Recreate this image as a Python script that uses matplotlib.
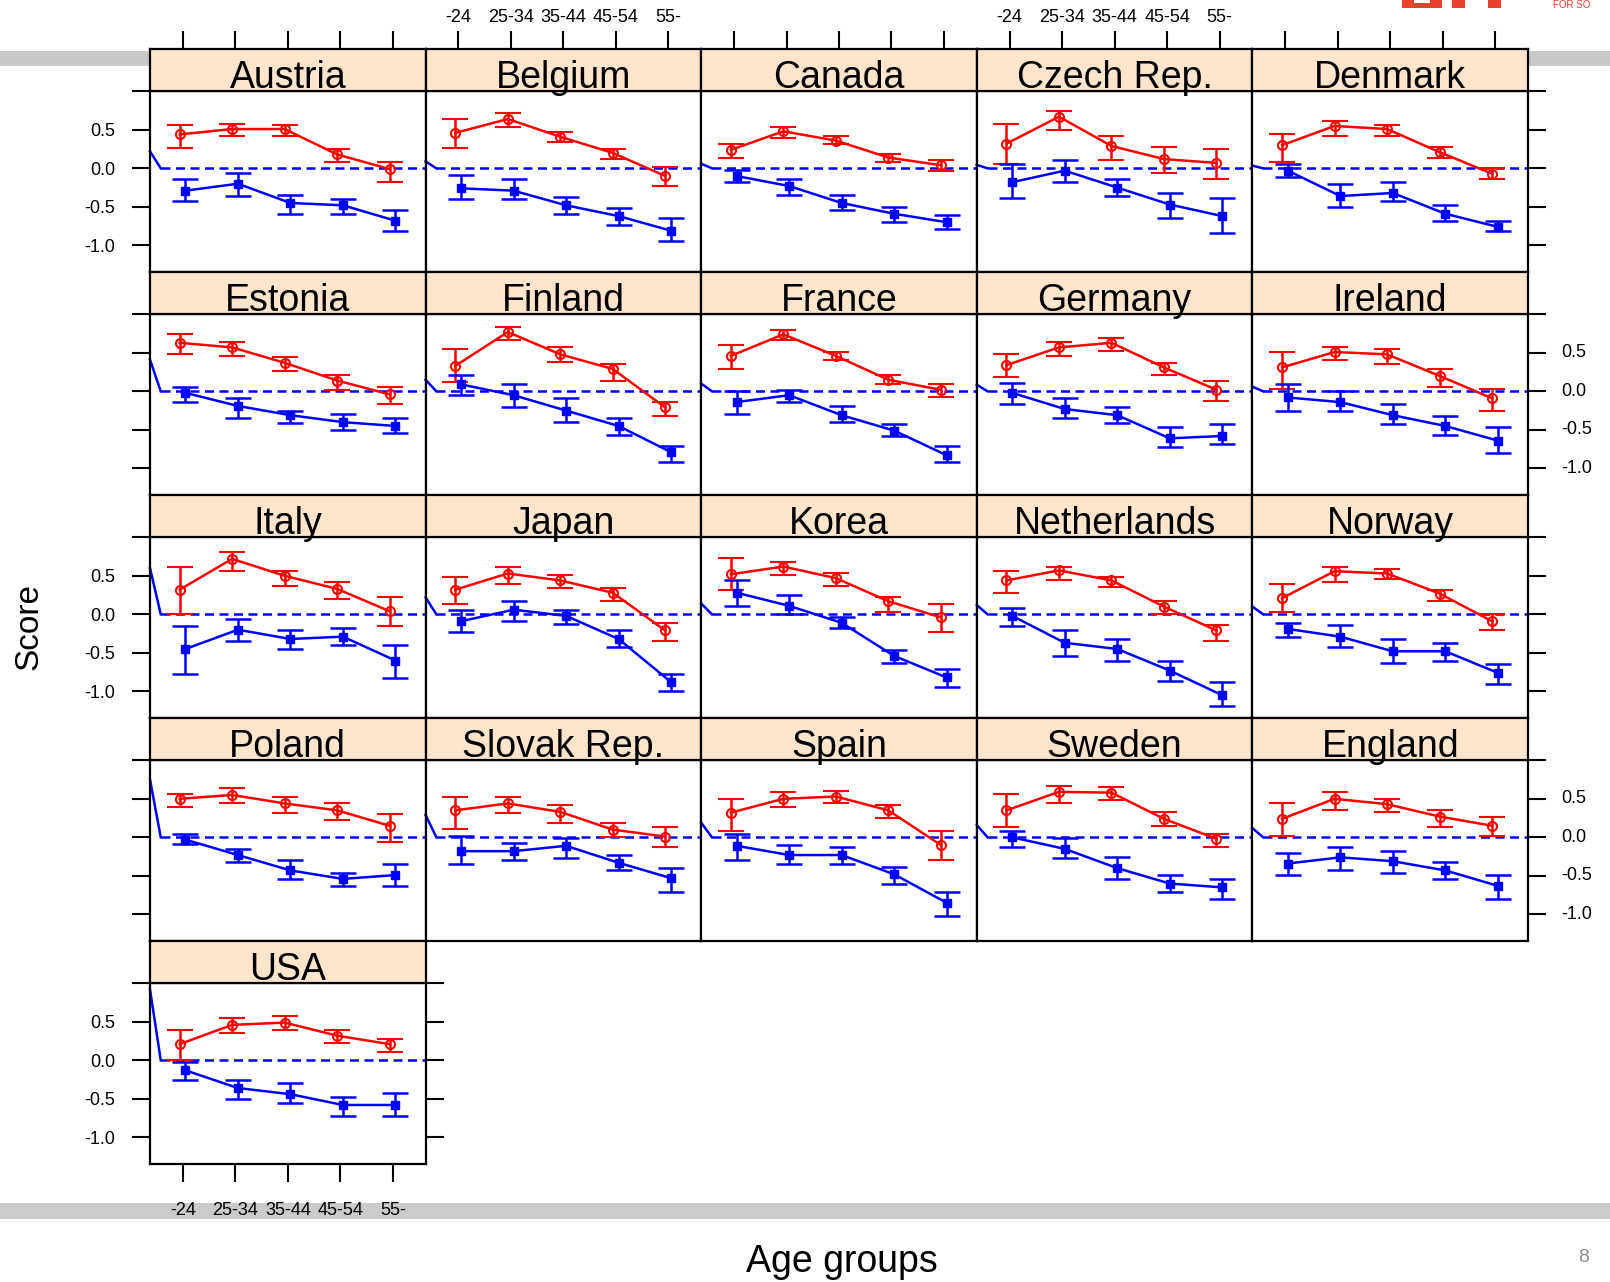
import matplotlib
matplotlib.use("Agg")
import matplotlib.pyplot as plt
import numpy as np
from matplotlib.patches import Rectangle

plt.rcParams['font.family'] = ['Liberation Sans', 'DejaVu Sans']

# ---- data ----
countries = ["Austria", "Belgium", "Canada", "Czech Rep.", "Denmark",
             "Estonia", "Finland", "France", "Germany", "Ireland",
             "Italy", "Japan", "Korea", "Netherlands", "Norway",
             "Poland", "Slovak Rep.", "Spain", "Sweden", "England",
             "USA"]
age_groups = ["-24", "25-34", "35-44", "45-54", "55-"]

red_mean = [
    [0.44, 0.51, 0.51, 0.18, -0.01], [0.46, 0.64, 0.41, 0.20, -0.10],
    [0.24, 0.48, 0.36, 0.14, 0.04], [0.32, 0.67, 0.29, 0.12, 0.07],
    [0.30, 0.55, 0.51, 0.21, -0.07], [0.63, 0.57, 0.37, 0.14, -0.04],
    [0.33, 0.77, 0.48, 0.29, -0.21], [0.46, 0.74, 0.46, 0.15, 0.02],
    [0.34, 0.57, 0.63, 0.31, 0.02], [0.31, 0.51, 0.48, 0.20, -0.09],
    [0.32, 0.72, 0.50, 0.33, 0.04], [0.32, 0.53, 0.44, 0.28, -0.21],
    [0.52, 0.62, 0.47, 0.17, -0.04], [0.44, 0.57, 0.44, 0.10, -0.21],
    [0.21, 0.56, 0.53, 0.27, -0.09], [0.50, 0.55, 0.44, 0.35, 0.15],
    [0.35, 0.44, 0.33, 0.10, 0.01], [0.32, 0.50, 0.53, 0.35, -0.10],
    [0.35, 0.59, 0.58, 0.24, -0.02], [0.24, 0.50, 0.43, 0.27, 0.15],
    [0.21, 0.46, 0.49, 0.32, 0.21]]
red_lo = [
    [0.27, 0.42, 0.42, 0.08, -0.18], [0.27, 0.53, 0.34, 0.12, -0.23],
    [0.14, 0.39, 0.31, 0.08, -0.04], [0.05, 0.50, 0.11, -0.06, -0.14],
    [0.08, 0.42, 0.42, 0.14, -0.14], [0.49, 0.46, 0.26, 0.02, -0.17],
    [0.12, 0.66, 0.38, 0.14, -0.32], [0.29, 0.67, 0.41, 0.10, -0.08],
    [0.18, 0.46, 0.52, 0.21, -0.12], [0.03, 0.41, 0.35, 0.06, -0.26],
    [0.00, 0.56, 0.37, 0.20, -0.15], [0.14, 0.40, 0.34, 0.17, -0.34],
    [0.31, 0.51, 0.37, 0.03, -0.23], [0.28, 0.45, 0.35, 0.00, -0.35],
    [0.03, 0.42, 0.46, 0.17, -0.20], [0.39, 0.44, 0.31, 0.22, -0.06],
    [0.11, 0.31, 0.19, 0.00, -0.12], [0.08, 0.40, 0.45, 0.25, -0.29],
    [0.14, 0.45, 0.48, 0.15, -0.12], [0.02, 0.36, 0.33, 0.14, 0.02],
    [0.00, 0.36, 0.39, 0.23, 0.11]]
red_hi = [
    [0.56, 0.58, 0.56, 0.25, 0.08], [0.64, 0.72, 0.47, 0.25, 0.02],
    [0.31, 0.54, 0.42, 0.19, 0.11], [0.58, 0.75, 0.42, 0.28, 0.25],
    [0.44, 0.61, 0.56, 0.28, 0.00], [0.75, 0.64, 0.44, 0.21, 0.06],
    [0.55, 0.84, 0.58, 0.35, -0.14], [0.60, 0.80, 0.51, 0.21, 0.09],
    [0.49, 0.64, 0.69, 0.37, 0.14], [0.51, 0.57, 0.55, 0.29, 0.03],
    [0.62, 0.81, 0.56, 0.42, 0.22], [0.48, 0.62, 0.51, 0.34, -0.11],
    [0.73, 0.68, 0.54, 0.22, 0.14], [0.56, 0.62, 0.48, 0.17, -0.14],
    [0.40, 0.62, 0.59, 0.31, 0.00], [0.56, 0.64, 0.53, 0.44, 0.30],
    [0.53, 0.53, 0.42, 0.19, 0.14], [0.50, 0.59, 0.60, 0.42, 0.08],
    [0.56, 0.67, 0.65, 0.33, 0.04], [0.45, 0.59, 0.50, 0.36, 0.27],
    [0.39, 0.55, 0.58, 0.39, 0.28]]

blue_mean = [
    [-0.29, -0.20, -0.45, -0.48, -0.68], [-0.26, -0.29, -0.48, -0.62, -0.81],
    [-0.10, -0.23, -0.45, -0.59, -0.70], [-0.18, -0.03, -0.25, -0.47, -0.62],
    [-0.03, -0.36, -0.32, -0.59, -0.76], [-0.02, -0.19, -0.31, -0.40, -0.45],
    [0.09, -0.05, -0.25, -0.45, -0.79], [-0.14, -0.05, -0.31, -0.51, -0.83],
    [-0.02, -0.23, -0.31, -0.61, -0.58], [-0.08, -0.14, -0.31, -0.45, -0.64],
    [-0.45, -0.20, -0.32, -0.29, -0.60], [-0.09, 0.06, -0.02, -0.32, -0.88],
    [0.28, 0.11, -0.11, -0.54, -0.82], [-0.02, -0.37, -0.45, -0.73, -1.05],
    [-0.19, -0.29, -0.48, -0.48, -0.76], [-0.03, -0.23, -0.43, -0.54, -0.49],
    [-0.18, -0.18, -0.11, -0.33, -0.53], [-0.11, -0.23, -0.23, -0.48, -0.85],
    [0.00, -0.15, -0.40, -0.60, -0.65], [-0.34, -0.26, -0.31, -0.43, -0.63],
    [-0.13, -0.36, -0.44, -0.58, -0.58]]
blue_lo = [
    [-0.43, -0.36, -0.59, -0.59, -0.81], [-0.40, -0.40, -0.59, -0.73, -0.95],
    [-0.18, -0.34, -0.54, -0.70, -0.79], [-0.39, -0.18, -0.36, -0.64, -0.84],
    [-0.11, -0.50, -0.43, -0.68, -0.81], [-0.14, -0.34, -0.41, -0.50, -0.54],
    [-0.05, -0.20, -0.40, -0.57, -0.92], [-0.29, -0.14, -0.40, -0.58, -0.92],
    [-0.17, -0.34, -0.41, -0.72, -0.68], [-0.26, -0.26, -0.43, -0.57, -0.80],
    [-0.77, -0.34, -0.45, -0.40, -0.83], [-0.23, -0.09, -0.12, -0.43, -1.00],
    [0.11, 0.01, -0.18, -0.63, -0.94], [-0.15, -0.54, -0.60, -0.86, -1.19],
    [-0.29, -0.43, -0.63, -0.60, -0.91], [-0.09, -0.32, -0.54, -0.63, -0.63],
    [-0.35, -0.29, -0.27, -0.43, -0.71], [-0.29, -0.34, -0.34, -0.60, -1.02],
    [-0.12, -0.27, -0.54, -0.71, -0.80], [-0.49, -0.43, -0.46, -0.54, -0.80],
    [-0.25, -0.50, -0.56, -0.72, -0.72]]
blue_hi = [
    [-0.14, -0.06, -0.34, -0.40, -0.54], [-0.09, -0.14, -0.37, -0.51, -0.65],
    [-0.02, -0.14, -0.34, -0.50, -0.61], [0.05, 0.11, -0.14, -0.32, -0.39],
    [0.05, -0.20, -0.18, -0.48, -0.68], [0.06, -0.09, -0.26, -0.29, -0.34],
    [0.21, 0.09, -0.09, -0.35, -0.71], [0.00, 0.02, -0.19, -0.43, -0.71],
    [0.11, -0.09, -0.20, -0.46, -0.43], [0.09, 0.00, -0.17, -0.32, -0.46],
    [-0.15, -0.06, -0.20, -0.18, -0.40], [0.05, 0.17, 0.06, -0.20, -0.77],
    [0.44, 0.25, -0.03, -0.46, -0.71], [0.08, -0.20, -0.32, -0.60, -0.88],
    [-0.11, -0.14, -0.32, -0.37, -0.65], [0.04, -0.15, -0.29, -0.46, -0.35],
    [0.02, -0.07, -0.01, -0.23, -0.40], [0.04, -0.10, -0.12, -0.38, -0.71],
    [0.08, -0.01, -0.26, -0.49, -0.54], [-0.21, -0.12, -0.18, -0.32, -0.49],
    [-0.02, -0.25, -0.30, -0.47, -0.42]]

# height where the stray blue lead-in segment enters each panel
lead_in = [0.22, 0.09, 0.06, 0.045, 0.035,
           0.41, 0.15, 0.10, 0.085, 0.06,
           0.60, 0.22, 0.14, 0.12, 0.10,
           0.75, 0.29, 0.19, 0.16, 0.12,
           0.92]

yticks = [1.0, 0.5, 0.0, -0.5, -1.0]
ytick_labels = ["", "0.5", "0.0", "-0.5", "-1.0"]

# ---- layout (pixels) ----
W, H = 1610, 1282
fig = plt.figure(figsize=(W / 100, H / 100), dpi=100)
fig.patch.set_facecolor("white")

def px_axes(x0, top, w, h, z=1):
    return fig.add_axes([x0 / W, 1 - (top + h) / H, w / W, h / H], zorder=z)

def px_rect(x0, top, w, h, color):
    fig.patches.append(Rectangle((x0 / W, 1 - (top + h) / H), w / W, h / H,
                                 transform=fig.transFigure, facecolor=color,
                                 edgecolor="none", zorder=0))

# slide decorations: grey bands, bottom of the logo, page number
px_rect(0, 51, W, 15, "#C8C8C8")
px_rect(0, 1203, W, 16, "#CBCBCB")
logo = "#E8412C"
px_rect(1402, 0, 40, 8, logo)
px_rect(1414, 0, 16, 3, "white")
px_rect(1452, 0, 13, 8, logo)
px_rect(1488, 0, 13, 8, logo)
fig.text(1553 / W, 1 - 0.5 / H, "FOR SO", color=logo, fontsize=7,
         ha="left", va="top")
fig.text(1584 / W, 1 - 1258 / H, "8", color="#8C8C8C", fontsize=14,
         ha="center", va="center")

red = "#FF0000"
blue = "#0000FF"
x = np.arange(1, 6)
col_left, col_w = 150.0, 275.6
row_top, row_h, strip_h = 49.3, 223.0, 42.0
tick_len, tick_w = 13, 1.5
lw = 1.8

for i, name in enumerate(countries):
    r, c = divmod(i, 5)
    left = col_left + c * col_w
    top = row_top + r * row_h

    # strip
    sax = px_axes(left, top, col_w, strip_h, z=3)
    sax.set_facecolor("#FFE5CC")
    sax.set_xlim(0.375, 5.625)
    sax.set_yticks([])
    for sp in sax.spines.values():
        sp.set_linewidth(1.6)
    sax.text(0.5, 0.08, name, fontsize=27, ha="center", va="baseline",
             transform=sax.transAxes)
    if r == 0:
        sax.set_xticks(x)
        sax.set_xticklabels(age_groups)
        sax.tick_params(axis="x", direction="out", length=tick_len, width=tick_w,
                        labelsize=13, top=True, bottom=False,
                        labeltop=c in (1, 3), labelbottom=False, pad=4)
    else:
        sax.set_xticks([])

    # panel
    ax = px_axes(left, top + strip_h, col_w, row_h - strip_h, z=2)
    ax.set_xlim(0.375, 5.625)
    ax.set_ylim(-1.35, 1.0)
    for sp in ax.spines.values():
        sp.set_linewidth(1.6)

    ax.plot([0.375, 0.58], [lead_in[i], 0], color=blue, lw=lw, clip_on=False)
    ax.plot([0.58, 5.625], [0, 0], color=blue, lw=lw, dashes=(3.6, 2.2))

    rm, rl, rh = np.array(red_mean[i]), np.array(red_lo[i]), np.array(red_hi[i])
    bm, bl, bh = np.array(blue_mean[i]), np.array(blue_lo[i]), np.array(blue_hi[i])
    ax.errorbar(x - 0.06, rm, yerr=[rm - rl, rh - rm], color=red, lw=lw,
                elinewidth=lw, capsize=9.4, capthick=lw, marker="o", ms=6.5,
                mfc="none", mec=red, mew=1.5)
    ax.errorbar(x + 0.05, bm, yerr=[bm - bl, bh - bm], color=blue, lw=lw,
                elinewidth=lw, capsize=9.4, capthick=lw, marker="s", ms=6,
                mfc=blue, mec=blue)

    # ticks
    ax.set_xticks(x)
    ax.set_xticklabels(age_groups)
    ax.set_yticks(yticks)
    ax.set_yticklabels(ytick_labels)
    is_last = (i == len(countries) - 1)
    left_ticks = c == 0
    right_ticks = c == 4 or is_last
    ax.tick_params(axis="y", direction="out", length=tick_len, width=tick_w,
                   labelsize=13, left=left_ticks, right=right_ticks,
                   labelleft=left_ticks and r in (0, 2, 4),
                   labelright=False, pad=12)
    ax.tick_params(axis="x", direction="out", length=tick_len, width=tick_w,
                   labelsize=13, top=False, labeltop=False,
                   bottom=is_last, labelbottom=is_last, pad=14)
    # right-hand labels on rows 2 and 4
    if c == 4 and r in (1, 3):
        for yv, lab in zip(yticks, ytick_labels):
            ax.annotate(lab, xy=(1, yv), xycoords=("axes fraction", "data"),
                        xytext=(24, 0), textcoords="offset points",
                        ha="left", va="center", fontsize=13)

fig.text(29 / W, 1 - 626 / H, "Score", fontsize=24, rotation=90,
         ha="center", va="center")
fig.text(842 / W, 1 - 1262 / H, "Age groups", fontsize=27,
         ha="center", va="center")

fig.savefig("out.png", dpi=100, facecolor="white")
